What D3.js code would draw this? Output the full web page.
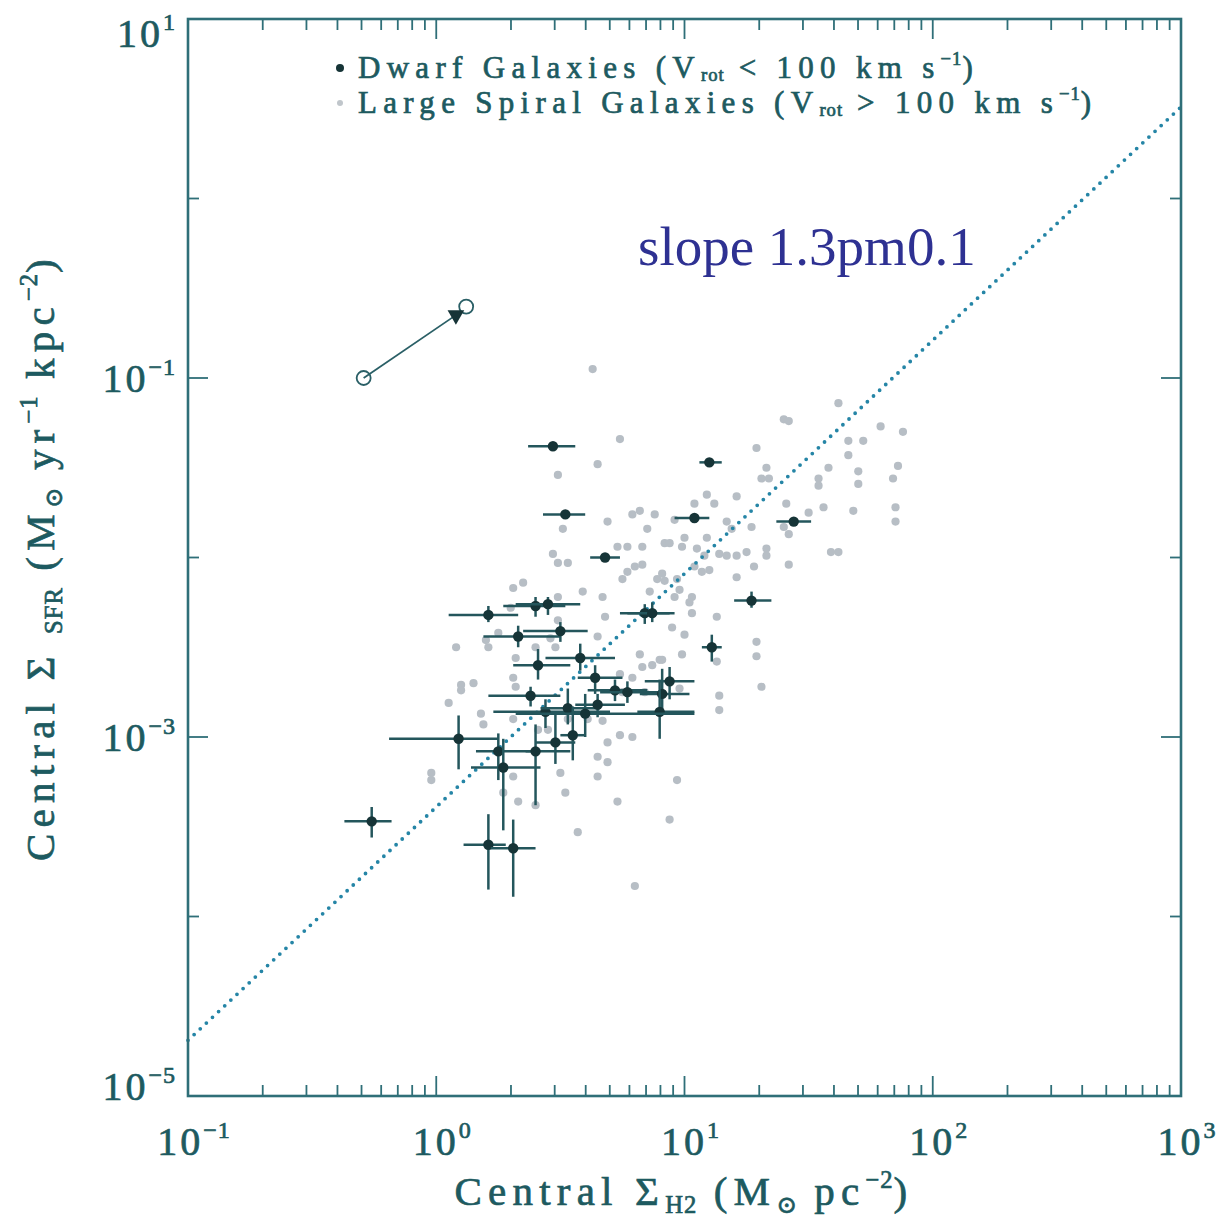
<!DOCTYPE html>
<html><head><meta charset="utf-8">
<script src="https://cdn.jsdelivr.net/npm/d3@7"></script>
<style>body{margin:0;background:#fff}svg{display:block}</style>
</head><body><svg id="c" width="1226" height="1222"></svg>
<script>
// ---------------- DATA (log10 values) ----------------
// Dwarf galaxies: log Sigma_H2 (Msun pc^-2), log Sigma_SFR (Msun yr^-1 kpc^-2) with error ranges
const dwarfLogH2  = [0.47,1.10,0.52,1.04,1.44,0.68,1.27,0.21,0.40,0.45,0.84,0.87,0.33,0.50,1.11,0.41,0.58,0.64,0.72,0.77,0.91,0.94,0.90,0.38,0.44,0.53,0.60,0.65,0.09,0.25,0.27,0.40,0.48,0.55,-0.26,0.21,0.31];
const dwarfH2Lo   = [0.37,1.06,0.43,0.96,1.37,0.62,1.20,0.05,0.27,0.32,0.74,0.77,0.19,0.35,1.07,0.31,0.44,0.57,0.61,0.66,0.82,0.84,0.81,0.21,0.23,0.42,0.32,0.56,-0.19,0.16,0.14,0.36,0.40,0.50,-0.37,0.11,0.22];
const dwarfH2Hi   = [0.56,1.15,0.60,1.10,1.51,0.74,1.35,0.33,0.52,0.58,0.96,0.94,0.50,0.61,1.15,0.54,0.72,0.75,0.85,0.92,1.02,1.04,1.04,0.50,0.70,0.66,1.04,0.76,0.25,0.40,0.42,0.54,0.56,0.60,-0.18,0.28,0.40];
const dwarfLogSFR = [-1.38,-1.47,-1.76,-1.78,-1.80,-2.00,-2.24,-2.32,-2.27,-2.26,-2.31,-2.31,-2.44,-2.41,-2.50,-2.60,-2.56,-2.67,-2.74,-2.75,-2.76,-2.69,-2.86,-2.77,-2.86,-2.84,-2.87,-2.82,-3.01,-3.08,-3.17,-3.08,-3.03,-2.99,-3.47,-3.60,-3.62];
const dwarfSFRLo  = [-1.38,-1.47,-1.76,-1.78,-1.80,-2.00,-2.28,-2.36,-2.33,-2.32,-2.37,-2.36,-2.50,-2.47,-2.58,-2.68,-2.63,-2.76,-2.80,-2.81,-2.87,-2.79,-3.01,-2.83,-2.95,-2.93,-3.00,-2.89,-3.18,-3.24,-3.52,-3.38,-3.15,-3.13,-3.56,-3.85,-3.89];
const dwarfSFRHi  = [-1.38,-1.47,-1.76,-1.78,-1.80,-2.00,-2.19,-2.27,-2.22,-2.22,-2.26,-2.25,-2.38,-2.36,-2.43,-2.51,-2.48,-2.60,-2.68,-2.69,-2.62,-2.61,-2.68,-2.72,-2.79,-2.73,-2.76,-2.76,-2.88,-2.98,-3.01,-2.93,-2.87,-2.83,-3.39,-3.43,-3.46];

// Large spiral galaxies
const spiralLogH2 = [0.63,0.74,0.65,0.49,0.51,1.29,1.40,1.42,1.62,1.79,1.88,1.66,1.72,1.66,1.33,1.58,1.70,1.86,1.31,1.34,1.54,1.54,1.70,1.84,1.21,1.09,1.04,1.12,1.41,1.56,1.50,1.68,1.85,1.85,0.79,0.82,0.88,0.69,0.85,0.96,1.40,1.42,1.27,1.25,1.33,1.33,1.17,1.19,1.14,1.17,1.21,1.09,1.00,0.92,0.94,0.83,0.73,0.77,0.99,1.05,1.08,1.59,1.62,1.42,1.28,1.21,1.07,1.10,1.04,0.91,0.89,0.97,0.92,0.77,0.80,0.83,0.75,0.98,0.96,1.03,1.02,0.86,0.67,0.68,1.03,1.13,1.29,1.29,1.00,0.95,0.99,0.90,0.83,1.13,0.47,0.49,0.53,0.59,0.49,0.35,0.31,0.30,0.65,0.49,0.46,0.48,0.40,0.32,0.31,0.32,0.25,0.20,0.21,0.08,0.10,0.15,0.10,0.05,0.18,0.19,-0.02,-0.02,0.31,0.41,0.45,0.33,0.40,0.27,0.31,0.50,0.52,0.65,0.69,0.65,0.74,0.79,0.69,0.97,0.73,0.57,0.94,0.80,1.14,1.14,1.31,0.98,0.74,0.79,0.75,0.84,0.67,0.61,0.53,0.87,0.82,0.91];
const spiralLogSFR = [-0.95,-1.34,-1.48,-1.54,-1.84,-1.39,-1.23,-1.24,-1.14,-1.27,-1.30,-1.35,-1.35,-1.43,-1.50,-1.50,-1.52,-1.49,-1.56,-1.56,-1.56,-1.60,-1.59,-1.56,-1.66,-1.65,-1.70,-1.70,-1.70,-1.72,-1.75,-1.74,-1.72,-1.80,-1.76,-1.74,-1.76,-1.80,-1.84,-1.79,-1.83,-1.87,-1.83,-1.97,-1.95,-1.99,-1.80,-1.84,-1.98,-1.99,-1.99,-1.89,-1.89,-1.92,-1.92,-1.94,-1.94,-1.94,-1.94,-1.95,-1.99,-1.97,-1.97,-2.04,-2.05,-2.11,-2.08,-2.07,-2.05,-2.09,-2.12,-2.12,-2.13,-2.08,-2.05,-2.04,-2.12,-2.18,-2.22,-2.22,-2.25,-2.19,-2.22,-2.33,-2.31,-2.33,-2.47,-2.55,-2.43,-2.39,-2.54,-2.57,-2.61,-2.58,-1.98,-2.03,-2.03,-2.19,-2.22,-2.14,-2.17,-2.28,-2.44,-2.35,-2.45,-2.50,-2.50,-2.56,-2.67,-2.72,-2.42,-2.46,-2.50,-2.50,-2.71,-2.70,-2.74,-2.81,-2.87,-2.93,-3.20,-3.24,-2.90,-2.96,-2.96,-3.36,-3.38,-3.31,-3.22,-3.20,-3.31,-3.11,-3.14,-3.22,-2.99,-3.00,-3.03,-3.24,-3.36,-3.53,-3.46,-3.83,-2.77,-2.85,-2.72,-2.73,-2.65,-2.67,-2.75,-2.75,-2.91,-2.90,-2.90,-2.60,-2.54,-2.57];

// Fitted relation: log SFR = slope * log H2 + intercept
const fitSlope = 1.3, fitIntercept = -3.39;
const fitRange = [0.1, 1000];

// Offset example (open circles and triangle), actual values
const offsetFrom = [0.51, 0.10];
const offsetTo   = [1.32, 0.25];
const offsetTri  = [1.20, 0.224];

// Axis ticks
const xDecades = [-1, 0, 1, 2, 3];
const yLabeled = [1, -1, -3, -5];
const yMinor   = [0, -2, -4];

const legendItems = [
  {kind:"dwarf", parts:[["Dwarf Galaxies (V","n"],["rot","sub"],[" < 100 km s","n"],["−1","sup"],[")","n"]]},
  {kind:"spiral", parts:[["Large Spiral Galaxies (V","n"],["rot","sub"],[" > 100 km s","n"],["−1","sup"],[")","n"]]}
];
const annotation = "slope 1.3pm0.1";

// ---------------- DRAWING ----------------
const svg = d3.select("#c");
const FONT = "'Liberation Serif', 'DejaVu Serif', serif";
const TXT = "#1d5a60", AX = "#2f6f78";
const L = 188, R = 1181, T = 19, B = 1096;
const x = d3.scaleLog().domain([0.1, 1000]).range([L, R]);
const y = d3.scaleLog().domain([1e-5, 10]).range([B, T]);
const p10 = v => Math.pow(10, v);

function rich(textSel, parts, size, subK = 0.22, ls = 0) {
  let shift = 0;
  parts.forEach(([t, m]) => {
    let target = m === "sub" ? size*subK : m === "sup" ? -size*0.42 : 0;
    textSel.append("tspan")
      .attr("dy", target - shift)
      .attr("font-size", m === "n" ? size : size*0.6)
      .attr("letter-spacing", m === "n" ? ls : 1)
      .text(t);
    shift = target;
  });
}
function styleText(t) {
  return t.attr("font-family", FONT).attr("fill", TXT)
    .attr("stroke", TXT).attr("stroke-width", 0.7);
}

// spirals
svg.append("g").selectAll("circle").data(spiralLogH2).join("circle")
  .attr("cx", (d,i) => x(p10(d))).attr("cy", (d,i) => y(p10(spiralLogSFR[i])))
  .attr("r", 4.1).attr("fill", "#b7bec5");

// fit line (dotted)
svg.append("line")
  .attr("x1", x(fitRange[0])).attr("y1", y(p10(fitSlope*Math.log10(fitRange[0]) + fitIntercept)))
  .attr("x2", x(fitRange[1])).attr("y2", y(p10(fitSlope*Math.log10(fitRange[1]) + fitIntercept)))
  .attr("stroke", "#2585a6").attr("stroke-width", 3.8).attr("stroke-linecap", "round")
  .attr("stroke-dasharray", "0 8.4");

// dwarfs
const gd = svg.append("g");
dwarfLogH2.forEach((d, i) => {
  const cx = x(p10(d)), cy = y(p10(dwarfLogSFR[i]));
  gd.append("line").attr("x1", x(p10(dwarfH2Lo[i]))).attr("x2", x(p10(dwarfH2Hi[i])))
    .attr("y1", cy).attr("y2", cy).attr("stroke", "#24565c").attr("stroke-width", 2.5);
  if (dwarfSFRLo[i] !== dwarfSFRHi[i])
    gd.append("line").attr("x1", cx).attr("x2", cx)
      .attr("y1", y(p10(dwarfSFRLo[i]))).attr("y2", y(p10(dwarfSFRHi[i])))
      .attr("stroke", "#24565c").attr("stroke-width", 2.5);
  gd.append("circle").attr("cx", cx).attr("cy", cy).attr("r", 5.2).attr("fill", "#163437");
});

// offset example
svg.append("line").attr("x1", x(offsetFrom[0])).attr("y1", y(offsetFrom[1]))
  .attr("x2", x(offsetTri[0])).attr("y2", y(offsetTri[1]))
  .attr("stroke", "#2a5f66").attr("stroke-width", 1.8);
[offsetFrom, offsetTo].forEach(p => svg.append("circle").attr("cx", x(p[0])).attr("cy", y(p[1]))
  .attr("r", 7).attr("fill", "none").attr("stroke", "#2a5f66").attr("stroke-width", 1.8));
svg.append("path").attr("d", d3.symbol(d3.symbolTriangle, 120)())
  .attr("transform", `translate(${x(offsetTri[0])},${y(offsetTri[1])}) rotate(180)`)
  .attr("fill", "#163437");

// frame
svg.append("rect").attr("x", L).attr("y", T).attr("width", R-L).attr("height", B-T)
  .attr("fill", "none").attr("stroke", AX).attr("stroke-width", 2.6);

// x ticks (bottom and top)
const gt = svg.append("g").attr("stroke", AX).attr("stroke-width", 1.8);
xDecades.forEach(dec => {
  for (let k = 1; k <= 9; k++) {
    if (dec === 3 && k > 1) break;
    const v = k * p10(dec), px = x(v), len = k === 1 ? 20 : 11;
    gt.append("line").attr("x1", px).attr("x2", px).attr("y1", B).attr("y2", B-len);
    gt.append("line").attr("x1", px).attr("x2", px).attr("y1", T).attr("y2", T+len);
  }
});
// y ticks (left and right)
yLabeled.concat(yMinor).forEach(e => {
  const py = y(p10(e)), len = yLabeled.includes(e) ? 20 : 11;
  gt.append("line").attr("x1", L).attr("x2", L+len).attr("y1", py).attr("y2", py);
  gt.append("line").attr("x1", R).attr("x2", R-len).attr("y1", py).attr("y2", py);
});

// tick labels
const TS = 40;
xDecades.forEach(dec => {
  const t = styleText(svg.append("text").attr("x", x(p10(dec)) + 6).attr("y", 1155)
    .attr("text-anchor", "middle"));
  rich(t, [["10","n"],[dec < 0 ? "−" + (-dec) : String(dec),"sup"]], TS, 0.22, 3);
});
yLabeled.forEach(e => {
  let py = y(p10(e)) + 14;
  if (e === 1) py = 47; if (e === -5) py = 1100;
  const t = styleText(svg.append("text").attr("x", 176).attr("y", py)
    .attr("text-anchor", "end"));
  rich(t, [["10","n"],[e < 0 ? "−" + (-e) : String(e),"sup"]], TS, 0.22, 3);
});

// axis titles
const xl = styleText(svg.append("text").attr("x", 684).attr("y", 1205).attr("text-anchor", "middle"));
rich(xl, [["Central Σ","n"],["H2","sub"],[" (M","n"],["⊙","sub"],[" pc","n"],["−2","sup"],[")","n"]], 41, 0.2, 6.2);
const yl = styleText(svg.append("text").attr("transform", "translate(54,557) rotate(-90)").attr("text-anchor", "middle"));
rich(yl, [["Central Σ ","n"],["SFR","sub"],[" (M","n"],["⊙","sub"],[" yr","n"],["−1","sup"],[" kpc","n"],["−2","sup"],[")","n"]], 41, 0.2, 6.2);

// legend
legendItems.forEach((it, i) => {
  const ly = 68 + i*35;
  svg.append("circle").attr("cx", 340).attr("cy", ly).attr("r", it.kind === "dwarf" ? 4 : 3)
    .attr("fill", it.kind === "dwarf" ? "#163437" : "#c0c6cb");
  const t = styleText(svg.append("text").attr("x", 358).attr("y", ly + 10));
  rich(t, it.parts, 31, 0.1, 6.3);
});

// annotation
svg.append("text").attr("x", 638).attr("y", 265).attr("font-family", "'Liberation Serif', serif")
  .attr("font-size", 55).attr("fill", "#2e3192").text(annotation);
</script></body></html>
